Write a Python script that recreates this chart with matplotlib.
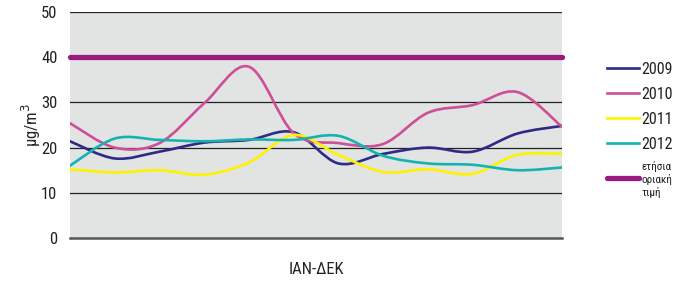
import numpy as np
import matplotlib
matplotlib.use("Agg")
import matplotlib.pyplot as plt
from matplotlib.path import Path
from matplotlib.patches import PathPatch
from matplotlib.lines import Line2D

plt.rcParams['font.family'] = ['Roboto Condensed', 'DejaVu Sans']

# monthly values, January to December
months = list(range(12))
years = ['2009', '2010', '2011', '2012']
v2009 = [21.4, 17.6, 19.1, 21.1, 21.7, 23.4, 16.5, 18.6, 20.0, 19.1, 23.1, 24.8]
v2010 = [25.4, 20.0, 21.0, 29.8, 37.9, 23.2, 21.0, 20.8, 27.7, 29.4, 32.3, 24.6]
v2011 = [15.2, 14.5, 15.0, 14.0, 16.7, 22.8, 18.4, 14.6, 15.2, 14.2, 18.4, 18.6]
v2012 = [16.0, 22.0, 21.7, 21.4, 21.8, 21.7, 22.6, 18.2, 16.5, 16.2, 15.0, 15.6]
limit_value = 40
limit_label = 'ετήσια\nοριακή\nτιμή'

colors = ['#2e2a86', '#cc4f97', '#fff200', '#14b3b0']
limit_color = '#9a1b7f'


def smooth_path(xs, ys):
    # cubic bezier segments through the points (catmull-rom style handles)
    pts = np.column_stack([xs, ys]).astype(float)
    ext = np.vstack([pts[0], pts, pts[-1]])
    verts = [pts[0]]
    codes = [Path.MOVETO]
    for i in range(len(pts) - 1):
        p0, p1, p2, p3 = ext[i], ext[i + 1], ext[i + 2], ext[i + 3]
        verts += [p1 + (p2 - p0) / 6, p2 - (p3 - p1) / 6, p2]
        codes += [Path.CURVE4] * 3
    return Path(verts, codes)


fig = plt.figure(figsize=(6.73, 2.81), dpi=100)
ax = fig.add_axes([70 / 673, 1 - 238 / 281, 492 / 673, 226 / 281])
ax.set_facecolor('#e2e3e3')
ax.set_xlim(0, 11)
ax.set_ylim(0, 50)

for y in [10, 20, 30, 40, 50]:
    ax.axhline(y, color='#222222', lw=0.9, zorder=1)
ax.axhline(0, color='#555555', lw=1.8, zorder=1, clip_on=False)

handles = []
for vals, c, name in zip([v2009, v2010, v2011, v2012], colors, years):
    patch = PathPatch(smooth_path(months, vals), facecolor='none', edgecolor=c,
                      lw=1.9, zorder=3, capstyle='round')
    ax.add_patch(patch)
    handles.append(Line2D([], [], color=c, lw=1.9))

ax.plot([0, 11], [limit_value, limit_value], color=limit_color, lw=3.8,
        solid_capstyle='round', clip_on=False, zorder=4)
handles.append(Line2D([], [], color=limit_color, lw=3.8, solid_capstyle='round'))

for s in ['top', 'right', 'left', 'bottom']:
    ax.spines[s].set_visible(False)
ax.set_xticks([])
ax.set_yticks([0, 10, 20, 30, 40, 50])
ax.tick_params(axis='y', length=0, pad=9, labelsize=12, labelcolor='#222222')
ax.set_ylabel('μg/m$^3$', fontsize=12, labelpad=-1, color='#222222')
ax.set_xlabel('ΙΑΝ-ΔΕΚ', fontsize=12, labelpad=17, color='#222222')

leg = ax.legend(handles, years + [limit_label], loc='center left',
                bbox_to_anchor=(1.079, 0.478), frameon=False, fontsize=11.5,
                handlelength=2.0, handletextpad=0.15, labelspacing=0.62,
                borderaxespad=0)
for t in leg.get_texts():
    t.set_color('#222222')
leg.get_texts()[4].set_fontsize(8)
leg.get_texts()[4].set_multialignment('left')

plt.savefig('out.png', dpi=100)
